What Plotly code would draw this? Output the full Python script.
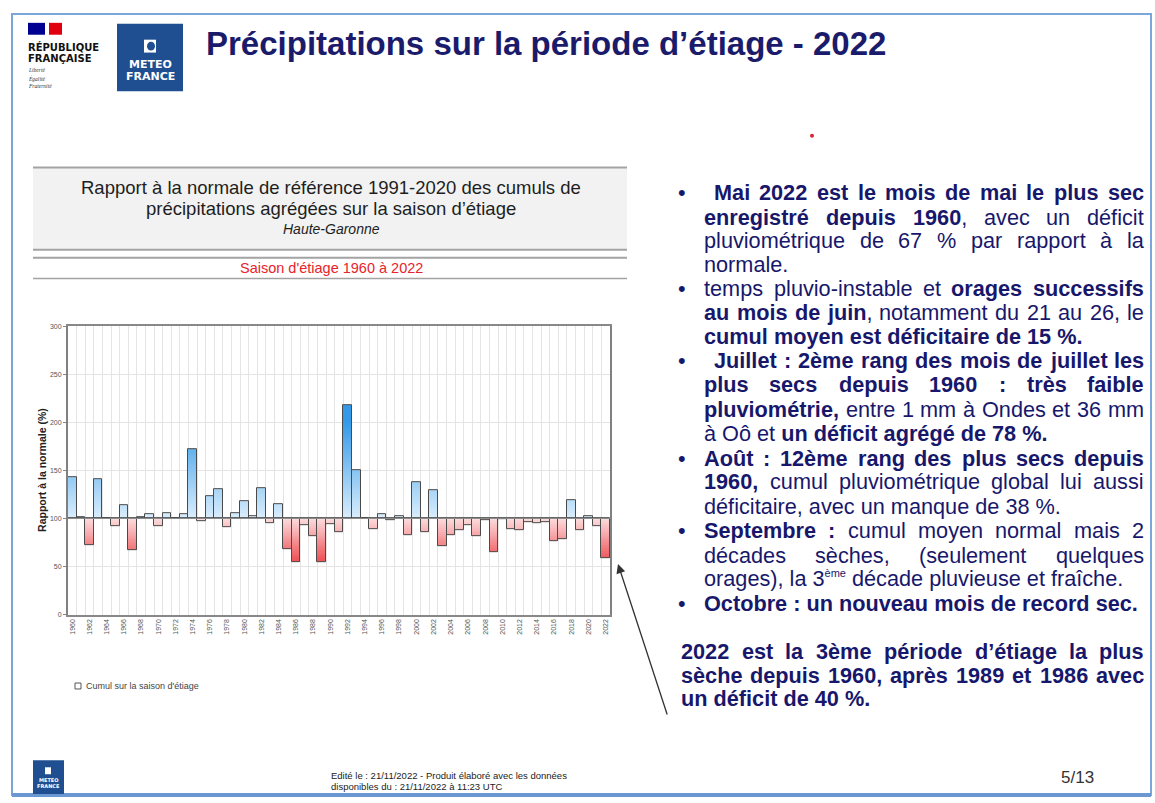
import math
import plotly.graph_objects as go

# ---------------- data ----------------
years = list(range(1960, 2023))
ratio = [143, 101, 72, 141, 100, 92, 114, 67, 101, 105,
         92, 106, 100, 104, 172, 97, 123, 130, 91, 106,
         118, 102, 132, 95, 115, 68, 55, 93, 82, 55,
         94, 86, 218, 150, 100.5, 89, 104, 98, 102, 83,
         138, 86, 129, 71, 83, 88, 93, 82, 98, 65,
         99.5, 89, 88, 96, 95, 96, 76, 78, 119, 88,
         102, 92, 59]
y_ticks = [0, 50, 100, 150, 200, 250, 300]
x_tick_years = list(range(1960, 2023, 2))
baseline = 100

W, H = 1155, 803
def X(x): return x / W
def Y(y): return 1 - y / H

FONT = "Liberation Sans, Arial, sans-serif"
NAVY = "#17176b"

# ---------------- gradient bars ----------------
def lerp(c0, c1, t):
    t = max(0.0, min(1.0, t))
    return "rgb(%d,%d,%d)" % tuple(round(a + (b - a) * t) for a, b in zip(c0, c1))

BLUE_L, BLUE_D = (218, 237, 252), (52, 154, 232)
RED_L, RED_D = (252, 222, 223), (238, 86, 90)

step = 2.0
sx, sb, sy, sc = [], [], [], []
for yr, v in zip(years, ratio):
    d = v - baseline
    n = int(math.ceil(abs(d) / step))
    for k in range(n - 1, -1, -1):
        ext = min((k + 1) * step, abs(d))
        t = (k + 0.5) * step
        sx.append(yr)
        sb.append(baseline)
        if d > 0:
            sy.append(ext)
            sc.append(lerp(BLUE_L, BLUE_D, t / 100))
        else:
            sy.append(-ext)
            sc.append(lerp(RED_L, RED_D, t / 42))

fig = go.Figure()
fig.add_trace(go.Bar(x=sx, y=sy, base=sb, width=1.0,
                     marker=dict(color=sc, line=dict(width=0)),
                     hoverinfo="skip", showlegend=False))
fig.add_trace(go.Bar(x=years, y=[v - baseline for v in ratio], base=[baseline] * len(years),
                     width=1.0, name="Cumul sur la saison d'étiage",
                     marker=dict(color="rgba(0,0,0,0)", line=dict(color="#4a4a4a", width=1)),
                     showlegend=False))

# ---------------- layout ----------------
fig.update_layout(
    width=W, height=H, margin=dict(l=0, r=0, t=0, b=0),
    paper_bgcolor="white", plot_bgcolor="white",
    barmode="overlay", bargap=0,
    font=dict(family=FONT),
    xaxis=dict(domain=[X(68), X(610)], range=[1959.5, 2022.5],
               tickmode="array", tickvals=x_tick_years, ticktext=[str(v) for v in x_tick_years],
               tickangle=-90, tickfont=dict(size=7, color="#555"),
               showgrid=False, ticks="", showline=True, linecolor="#888", linewidth=1.5, mirror=True,
               minor=dict(tick0=1959.5, dtick=1, showgrid=True, gridcolor="#e4e4e4", gridwidth=1),
               zeroline=False, fixedrange=True),
    yaxis=dict(domain=[Y(616), Y(325)], range=[0, 300],
               tickmode="array", tickvals=y_ticks, ticktext=[str(v) for v in y_ticks],
               tickfont=dict(size=7, color="#555"), ticks="outside", ticklen=3, tickcolor="#888",
               showgrid=True, gridcolor="#e4e4e4", showline=True, linecolor="#808080",
               linewidth=2, mirror=True, zeroline=False, fixedrange=True),
)

shapes = []
ann = []

# baseline line
shapes.append(dict(type="line", xref="x domain", yref="y", x0=0, x1=1, y0=baseline, y1=baseline,
                   line=dict(color="#8a8a8a", width=1)))

# slide frame
shapes.append(dict(type="rect", xref="paper", yref="paper", x0=X(12), x1=X(1151), y0=Y(798), y1=Y(10),
                   line=dict(color="#7aa6da", width=2), layer="below"))
shapes.append(dict(type="line", xref="paper", yref="paper", x0=X(12), x1=X(1151), y0=Y(798), y1=Y(798),
                   line=dict(color="#6b98d3", width=4)))

# chart header
shapes.append(dict(type="rect", xref="paper", yref="paper", x0=X(33), x1=X(627), y0=Y(248), y1=Y(165),
                   fillcolor="#f2f2f2", line=dict(width=0), layer="below"))
for yy, w in [(165, 2), (248, 2), (256, 2), (277, 1.5)]:
    shapes.append(dict(type="line", xref="paper", yref="paper", x0=X(33), x1=X(627), y0=Y(yy), y1=Y(yy),
                       line=dict(color="#a3a3a3", width=w)))

def add_text(text, x, y, size, color="#222", xanchor="left", bold=False, italic=False, angle=0, family=FONT):
    if bold:
        text = "<b>" + text + "</b>"
    if italic:
        text = "<i>" + text + "</i>"
    ann.append(dict(text=text, x=X(x), y=Y(y), xref="paper", yref="paper", xanchor=xanchor,
                    yanchor="middle", showarrow=False, textangle=angle, borderpad=0,
                    font=dict(size=size, color=color, family=family)))

add_text("Rapport à la normale de référence 1991-2020 des cumuls de", 331, 185, 18.5, "#1e1e1e", "center")
add_text("précipitations agrégées sur la saison d’étiage", 331, 206, 18.5, "#1e1e1e", "center")
add_text("Haute-Garonne", 331, 227, 14, "#1e1e1e", "center", italic=True)
add_text("Saison d'étiage 1960 à 2022", 331, 266, 14.5, "#e8232b", "center")

# y-axis title
add_text("Rapport à la normale (%)", 42, 470, 10.5, "#222", "center", bold=True, angle=-90)

# legend
shapes.append(dict(type="rect", xref="paper", yref="paper", x0=X(75), x1=X(81), y0=Y(691), y1=Y(685),
                   line=dict(color="#555", width=1), fillcolor="white"))
add_text("Cumul sur la saison d'étiage", 85, 688, 9, "#444")

# ---------------- title & logos ----------------
add_text("Précipitations sur la période d’étiage - 2022", 205, 40, 33, "#1b1b6b", bold=True)

# République Française block
shapes.append(dict(type="rect", xref="paper", yref="paper", x0=X(28), x1=X(45), y0=Y(31), y1=Y(19),
                   fillcolor="#000091", line=dict(width=0)))
shapes.append(dict(type="rect", xref="paper", yref="paper", x0=X(49), x1=X(62), y0=Y(31), y1=Y(19),
                   fillcolor="#e1000f", line=dict(width=0)))
add_text("RÉPUBLIQUE", 27, 43, 10, "#111", bold=True, family="DejaVu Sans, sans-serif")
add_text("FRANÇAISE", 27, 55, 10, "#111", bold=True, family="DejaVu Sans, sans-serif")
add_text("Liberté", 27, 67, 5.5, "#333", italic=True, family="Liberation Serif, serif")
add_text("Égalité", 27, 75, 5.5, "#333", italic=True, family="Liberation Serif, serif")
add_text("Fraternité", 27, 83, 5.5, "#333", italic=True, family="Liberation Serif, serif")

# Météo-France logo (top)
MF = "#1f4f91"
shapes.append(dict(type="rect", xref="paper", yref="paper", x0=X(117), x1=X(183), y0=Y(88), y1=Y(20),
                   fillcolor=MF, line=dict(width=0)))
shapes.append(dict(type="rect", xref="paper", yref="paper", x0=X(144), x1=X(156), y0=Y(49), y1=Y(36),
                   fillcolor="white", line=dict(width=0)))
shapes.append(dict(type="circle", xref="paper", yref="paper", x0=X(147), x1=X(155), y0=Y(47), y1=Y(38),
                   fillcolor=MF, line=dict(width=0)))
add_text("METEO", 150, 61, 11, "white", "center", bold=True, family="DejaVu Sans, sans-serif")
add_text("FRANCE", 150, 73, 11, "white", "center", bold=True, family="DejaVu Sans, sans-serif")

# Météo-France logo (bottom)
shapes.append(dict(type="rect", xref="paper", yref="paper", x0=X(33), x1=X(64), y0=Y(797), y1=Y(763),
                   fillcolor=MF, line=dict(width=0)))
shapes.append(dict(type="rect", xref="paper", yref="paper", x0=X(45), x1=X(51), y0=Y(777), y1=Y(770),
                   fillcolor="white", line=dict(width=0)))
add_text("METEO", 48.5, 783, 5, "white", "center", bold=True, family="DejaVu Sans, sans-serif")
add_text("FRANCE", 48.5, 789, 5, "white", "center", bold=True, family="DejaVu Sans, sans-serif")

# red dot
shapes.append(dict(type="circle", xref="paper", yref="paper", x0=X(810), x1=X(814), y0=Y(135), y1=Y(131),
                   fillcolor="#d9262e", line=dict(width=0)))

# footer
add_text("Edité le : 21/11/2022 - Produit élaboré avec les données", 330, 778, 9.5, "#222")
add_text("disponibles du : 21/11/2022 à 11:23 UTC", 330, 789, 9.5, "#222")
add_text("5/13", 1060, 780, 17, "#333")

# arrow
ann.append(dict(x=X(618), y=Y(565), xref="paper", yref="paper", ax=50, ay=153, axref="pixel", ayref="pixel",
                text=" ", showarrow=True, arrowhead=2, arrowsize=1.4, arrowwidth=1.3, arrowcolor="#333",
                font=dict(size=2)))

# ---------------- justified body text ----------------
REG = {' ': 278, 'a': 556, 'b': 556, 'c': 500, 'd': 556, 'e': 556, 'f': 278, 'g': 556, 'h': 556, 'i': 222,
       'j': 222, 'k': 500, 'l': 222, 'm': 833, 'n': 556, 'o': 556, 'p': 556, 'q': 556, 'r': 333, 's': 500,
       't': 278, 'u': 556, 'v': 500, 'w': 722, 'x': 500, 'y': 500, 'z': 500, ',': 278, '.': 278, ':': 278,
       '%': 889, '(': 333, ')': 333, '-': 333, "'": 191, '’': 222,
       'A': 667, 'B': 667, 'C': 722, 'D': 722, 'E': 667, 'F': 611, 'G': 778, 'H': 722, 'I': 278, 'J': 500,
       'K': 667, 'L': 556, 'M': 833, 'N': 722, 'O': 778, 'P': 667, 'Q': 778, 'R': 722, 'S': 667, 'T': 611,
       'U': 722, 'V': 667, 'W': 944, 'X': 667, 'Y': 667, 'Z': 611}
BLD = {' ': 278, 'a': 556, 'b': 611, 'c': 556, 'd': 611, 'e': 556, 'f': 333, 'g': 611, 'h': 611, 'i': 278,
       'j': 278, 'k': 556, 'l': 278, 'm': 889, 'n': 611, 'o': 611, 'p': 611, 'q': 611, 'r': 389, 's': 556,
       't': 333, 'u': 611, 'v': 556, 'w': 778, 'x': 556, 'y': 556, 'z': 500, ',': 278, '.': 278, ':': 333,
       '%': 889, '(': 333, ')': 333, '-': 333, "'": 238, '’': 278,
       'A': 722, 'B': 722, 'C': 722, 'D': 722, 'E': 667, 'F': 611, 'G': 778, 'H': 722, 'I': 278, 'J': 556,
       'K': 722, 'L': 611, 'M': 833, 'N': 722, 'O': 778, 'P': 667, 'Q': 778, 'R': 722, 'S': 667, 'T': 611,
       'U': 722, 'V': 667, 'W': 944, 'X': 667, 'Y': 667, 'Z': 611}
ACC = {'é': 'e', 'è': 'e', 'ê': 'e', 'à': 'a', 'â': 'a', 'ô': 'o', 'û': 'u', 'î': 'i', 'ç': 'c',
       'É': 'E', 'Ç': 'C'}

def text_w(s, bold):
    tbl = BLD if bold else REG
    return sum(tbl.get(ACC.get(ch, ch), 556) for ch in s)

BODY = 21.7

def runs_html(runs):
    return "".join(("<b>%s</b>" % t) if b else t for t, b in runs)

def add_line(runs, x0, x1, y, justify):
    if not justify:
        ann.append(dict(text=runs_html(runs), x=X(x0), y=Y(y), xref="paper", yref="paper",
                        xanchor="left", yanchor="middle", showarrow=False, borderpad=0,
                        font=dict(size=BODY, color=NAVY, family=FONT)))
        return
    words, cur = [], []
    for t, b in runs:
        parts = t.split(" ")
        for i, p in enumerate(parts):
            if i > 0 and cur:
                words.append(cur)
                cur = []
            if p:
                cur.append((p, b))
    if cur:
        words.append(cur)
    widths = [sum(text_w(p, b) for p, b in w) * BODY / 1000 for w in words]
    gap = (x1 - x0 - sum(widths)) / max(1, len(words) - 1)
    x = x0
    for w, wd in zip(words, widths):
        ann.append(dict(text=runs_html(w), x=X(x), y=Y(y), xref="paper", yref="paper",
                        xanchor="left", yanchor="middle", showarrow=False, borderpad=0,
                        font=dict(size=BODY, color=NAVY, family=FONT)))
        x += wd + gap

B, R = True, False
L0, RX = 703, 1143
lines = [
    ([("Mai 2022 est le mois de mai le plus sec", B)], 713, 190, True),
    ([("enregistré depuis 1960", B), (", avec un déficit", R)], L0, 215, True),
    ([("pluviométrique de 67 % par rapport à la", R)], L0, 239, True),
    ([("normale.", R)], L0, 263, False),
    ([("temps pluvio-instable et ", R), ("orages successifs", B)], L0, 287, True),
    ([("au mois de juin", B), (", notamment du 21 au 26, le", R)], L0, 311, True),
    ([("cumul moyen est déficitaire de 15 %.", B)], L0, 335, False),
    ([("Juillet : 2ème rang des mois de juillet les", B)], 713, 360, True),
    ([("plus secs depuis 1960 : très faible", B)], L0, 384, True),
    ([("pluviométrie,", B), (" entre 1 mm à Ondes et 36 mm", R)], L0, 409, True),
    ([("à Oô et ", R), ("un déficit agrégé de 78 %.", B)], L0, 433, False),
    ([("Août : 12ème rang des plus secs depuis", B)], L0, 458, True),
    ([("1960,", B), (" cumul pluviométrique global lui aussi", R)], L0, 482, True),
    ([("déficitaire, avec un manque de 38 %.", R)], L0, 507, False),
    ([("Septembre :", B), (" cumul moyen normal mais 2", R)], L0, 531, True),
    ([("décades sèches, (seulement quelques", R)], L0, 556, True),
    ([("orages), la 3<sup><span style='font-size:11px'>ème</span></sup> décade pluvieuse et fraîche.", R)],
     L0, 580, False),
    ([("Octobre : un nouveau mois de record sec.", B)], L0, 605, False),
    ([("2022 est la 3ème période d’étiage la plus", B)], 680, 653, True),
    ([("sèche depuis 1960, après 1989 et 1986 avec", B)], 680, 677, True),
    ([("un déficit de 40 %.", B)], 680, 701, False),
]
for runs, x0, y, just in lines:
    add_line(runs, x0, RX, y, just)

for by in [190, 287, 360, 458, 531, 605]:
    ann.append(dict(text="•", x=X(682), y=Y(by), xref="paper", yref="paper", xanchor="center",
                    yanchor="middle", showarrow=False, font=dict(size=BODY, color=NAVY, family=FONT)))

fig.update_layout(shapes=shapes, annotations=ann)
fig.write_html("out.html", config={"displayModeBar": False},
               post_script="document.body.style.margin='0';document.body.style.overflow='hidden';")
